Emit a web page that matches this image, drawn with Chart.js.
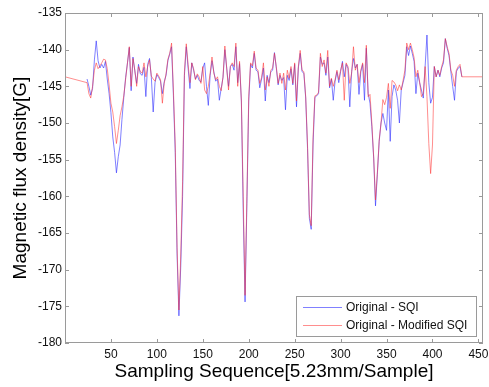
<!DOCTYPE html>
<html>
<head>
<meta charset="utf-8">
<script src="https://cdn.jsdelivr.net/npm/chart.js@4/dist/chart.umd.min.js"></script>
<style>
  body { margin: 0; background: #fff; }
  #wrap { width: 489px; height: 387px; }
</style>
</head>
<body>
<div id="wrap"><canvas id="chart" width="489" height="387"></canvas></div>
<script>
// sampling index of the first value and spacing between values
const firstSample = 24;
const sampleStep = 2;

// Original - SQI
const sqiValues = [
  -144.0, -145.0, -146.2, -145.3, -141.4, -138.8, -141.5, -142.5, -142.0, -142.5,
  -141.6, -144.0, -146.0, -148.6, -151.9, -154.0, -156.8, -154.6, -153.0, -149.5,
  -146.5, -143.8, -141.8, -139.7, -145.6, -141.0, -142.9, -144.6, -142.0, -143.3,
  -143.5, -142.4, -146.4, -142.0, -141.2, -143.8, -148.5, -144.5, -143.4, -143.8,
  -144.3, -146.0, -144.4, -143.5, -141.5, -140.6, -139.6, -146.2, -154.0, -168.0,
  -176.3, -169.5, -160.0, -143.5, -139.6, -142.5, -145.3, -141.8, -142.8, -144.0,
  -143.5, -144.2, -144.4, -142.5, -141.8, -145.0, -147.6, -143.5, -141.5, -143.0,
  -144.3, -144.0, -146.9, -145.3, -143.8, -140.0, -142.5, -145.0, -142.3, -142.0,
  -142.8, -139.6, -144.5, -141.9, -147.0, -162.0, -174.4, -161.0, -147.0, -142.0,
  -142.5, -140.5, -142.8, -143.0, -145.2, -144.0, -142.5, -147.0, -143.5, -144.5,
  -143.0, -142.8, -140.4, -142.5, -144.8, -143.5, -144.2, -143.8, -148.2, -143.5,
  -144.2, -142.6, -144.8, -142.0, -147.8, -142.5, -140.5, -143.0, -143.2, -146.6,
  -153.5, -163.0, -164.5, -153.0, -146.5, -146.3, -146.0, -141.0, -142.0, -141.8,
  -143.5, -141.0, -145.2, -144.0, -146.9, -144.3, -143.0, -144.5, -143.0, -141.6,
  -143.7, -142.0, -142.5, -147.8, -143.0, -141.2, -142.5, -142.0, -146.1, -143.0,
  -142.0, -146.9, -139.8, -146.0, -147.3, -150.5, -154.8, -161.3, -157.0, -152.5,
  -150.0, -148.7, -150.0, -151.0, -145.5, -152.5, -146.4, -144.8, -145.5, -146.9,
  -150.0, -145.5, -144.5, -143.5, -139.6, -140.8, -139.5, -140.5, -141.6, -146.0,
  -143.2, -144.5, -145.5, -146.6, -142.3, -138.0, -144.5, -147.3, -146.5, -142.3,
  -143.7, -142.8, -143.7, -142.5, -141.8, -138.5, -139.8, -140.8, -143.0, -145.0,
  -146.9, -143.0, -142.5, -142.3, -143.7
];

// Original - Modified SQI
const modSqiValues = [
  -144.5, -146.0, -146.6, -145.0, -142.8, -141.8, -142.6, -142.2, -141.8, -141.3,
  -141.4, -142.6, -144.8, -147.3, -148.5, -150.5, -152.8, -151.0, -149.0, -147.8,
  -146.3, -144.0, -141.8, -139.6, -145.0, -141.2, -142.8, -145.0, -142.3, -143.0,
  -143.2, -141.8, -143.7, -142.3, -141.4, -143.6, -144.0, -144.3, -143.2, -143.6,
  -144.1, -147.3, -144.6, -143.3, -141.3, -140.5, -139.1, -145.5, -153.0, -167.0,
  -175.5, -168.0, -158.0, -143.0, -139.2, -142.0, -144.5, -141.8, -142.6, -144.1,
  -143.3, -143.7, -144.6, -142.3, -145.5, -146.0, -145.0, -143.2, -141.0, -143.2,
  -144.1, -143.7, -145.0, -145.6, -143.7, -139.5, -142.5, -145.5, -142.3, -141.8,
  -142.3, -139.1, -145.0, -141.6, -147.0, -160.0, -173.5, -160.0, -146.4, -141.8,
  -142.2, -140.2, -142.5, -142.8, -144.6, -143.8, -141.8, -145.5, -143.7, -145.0,
  -142.8, -142.5, -140.5, -142.3, -144.6, -143.2, -144.6, -143.2, -145.5, -142.8,
  -143.9, -142.3, -144.6, -141.8, -147.0, -142.3, -140.1, -142.8, -143.0, -146.4,
  -153.0, -162.5, -164.0, -152.0, -146.3, -146.2, -145.8, -140.5, -142.3, -141.4,
  -143.2, -140.1, -145.0, -143.9, -145.0, -144.1, -142.8, -144.1, -142.8, -141.8,
  -146.9, -141.8, -142.3, -144.6, -143.2, -139.6, -142.8, -142.0, -144.5, -142.8,
  -141.8, -144.5, -139.4, -146.4, -146.1, -150.0, -154.6, -160.5, -156.8, -152.3,
  -150.0, -146.8, -147.5, -146.5, -144.6, -148.0, -144.2, -144.4, -144.8, -145.6,
  -144.8, -145.5, -144.2, -142.8, -139.1, -140.0, -139.1, -140.0, -141.1, -143.7,
  -142.8, -144.4, -146.4, -146.0, -142.3, -146.4, -152.8, -156.9, -153.0, -142.3,
  -143.7, -142.8, -143.5, -142.3, -141.4, -138.5, -139.6, -140.5, -142.8, -143.5,
  -145.0, -142.8, -142.3, -142.0, -143.7
];

// the modified series is held flat outside the measured range
const modSqiPad = -143.7;

const xTicks = [50, 100, 150, 200, 250, 300, 350, 400, 450];
const yTicks = [-180, -175, -170, -165, -160, -155, -150, -145, -140, -135];
const xMin = 0, xMax = 455;
const yMin = -180, yMax = -135;

const seriesLabels = ['Original - SQI', 'Original - Modified SQI'];
const seriesColors = ['rgba(50,50,255,0.62)', 'rgba(255,50,50,0.55)'];

const fontFamily = "'Liberation Sans', Arial, Helvetica, sans-serif";
const frameColor = '#9a9a9a';

function toPoints(values) {
  return values.map((v, i) => ({x: firstSample + i * sampleStep, y: v}));
}

const sqiPoints = toPoints(sqiValues);
const modSqiPoints = [{x: xMin, y: modSqiPad}]
  .concat(toPoints(modSqiValues))
  .concat([{x: xMax, y: modSqiPad}]);

// box round the plot with inward tick marks, like the original figure
const frameTicks = {
  id: 'frameTicks',
  afterDatasetsDraw(chart) {
    const {ctx, chartArea: a, scales: {x, y}} = chart;
    const len = 4;
    ctx.save();
    ctx.strokeStyle = frameColor;
    ctx.lineWidth = 1;
    ctx.strokeRect(Math.round(a.left) + 0.5, Math.round(a.top) + 0.5,
      Math.round(a.right - a.left) - 1, Math.round(a.bottom - a.top) - 1);
    ctx.beginPath();
    xTicks.forEach(v => {
      const px = Math.round(x.getPixelForValue(v)) + 0.5;
      ctx.moveTo(px, a.bottom);
      ctx.lineTo(px, a.bottom - len);
      ctx.moveTo(px, a.top);
      ctx.lineTo(px, a.top + len);
    });
    yTicks.forEach(v => {
      const py = Math.round(y.getPixelForValue(v)) + 0.5;
      ctx.moveTo(a.left, py);
      ctx.lineTo(a.left + len, py);
      ctx.moveTo(a.right, py);
      ctx.lineTo(a.right - len, py);
    });
    ctx.stroke();
    ctx.restore();
  }
};

// legend box in the lower right corner of the plot
const boxLegend = {
  id: 'boxLegend',
  afterDraw(chart) {
    const {ctx, chartArea: a} = chart;
    const w = 180, h = 40;
    const left = a.right - w - 7, top = a.bottom - h - 7;
    ctx.save();
    ctx.fillStyle = '#fff';
    ctx.fillRect(left, top, w, h);
    ctx.strokeStyle = frameColor;
    ctx.lineWidth = 1;
    ctx.strokeRect(left + 0.5, top + 0.5, w, h);
    ctx.font = '12px ' + fontFamily;
    ctx.textBaseline = 'middle';
    chart.data.datasets.forEach((ds, i) => {
      const yy = top + 11.5 + i * 18;
      ctx.strokeStyle = ds.borderColor;
      ctx.beginPath();
      ctx.moveTo(left + 7, yy);
      ctx.lineTo(left + 46, yy);
      ctx.stroke();
      ctx.fillStyle = '#111';
      ctx.fillText(ds.label, left + 50, yy);
    });
    ctx.restore();
  }
};

new Chart(document.getElementById('chart'), {
  type: 'line',
  data: {
    datasets: [
      {
        label: seriesLabels[0],
        data: sqiPoints,
        borderColor: seriesColors[0],
        borderWidth: 1,
        pointRadius: 0,
        tension: 0,
        order: 1,
      },
      {
        label: seriesLabels[1],
        data: modSqiPoints,
        borderColor: seriesColors[1],
        borderWidth: 1,
        pointRadius: 0,
        tension: 0,
        order: 0,
      },
    ]
  },
  options: {
    responsive: false,
    animation: false,
    devicePixelRatio: 1,
    layout: {padding: {left: 0, right: 6, top: 13, bottom: 0}},
    plugins: {
      legend: {display: false},
      tooltip: {enabled: false},
    },
    scales: {
      x: {
        type: 'linear',
        min: xMin,
        max: xMax,
        grid: {display: false, drawTicks: false},
        border: {display: false},
        afterBuildTicks: scale => { scale.ticks = xTicks.map(v => ({value: v})); },
        afterFit: scale => {
          scale.height = 44;
          scale.paddingLeft = 0;
          scale.paddingRight = 0;
        },
        ticks: {
          padding: 4,
          color: '#111',
          maxRotation: 0,
          autoSkip: false,
          font: {family: fontFamily, size: 12},
        },
        title: {
          display: true,
          text: 'Sampling Sequence[5.23mm/Sample]',
          color: '#000',
          font: {family: fontFamily, size: 19},
          padding: {top: 0, bottom: 4},
        },
      },
      y: {
        type: 'linear',
        min: yMin,
        max: yMax,
        grid: {display: false, drawTicks: false},
        border: {display: false},
        afterBuildTicks: scale => { scale.ticks = yTicks.map(v => ({value: v})); },
        afterFit: scale => {
          scale.width = 65;
          scale.paddingTop = 0;
          scale.paddingBottom = 0;
        },
        ticks: {
          padding: 3,
          color: '#111',
          autoSkip: false,
          font: {family: fontFamily, size: 12},
        },
        title: {
          display: true,
          text: 'Magnetic flux density[G]',
          color: '#000',
          font: {family: fontFamily, size: 19},
          padding: {top: 9, bottom: 0},
        },
      },
    },
  },
  plugins: [frameTicks, boxLegend],
});
</script>
</body>
</html>
